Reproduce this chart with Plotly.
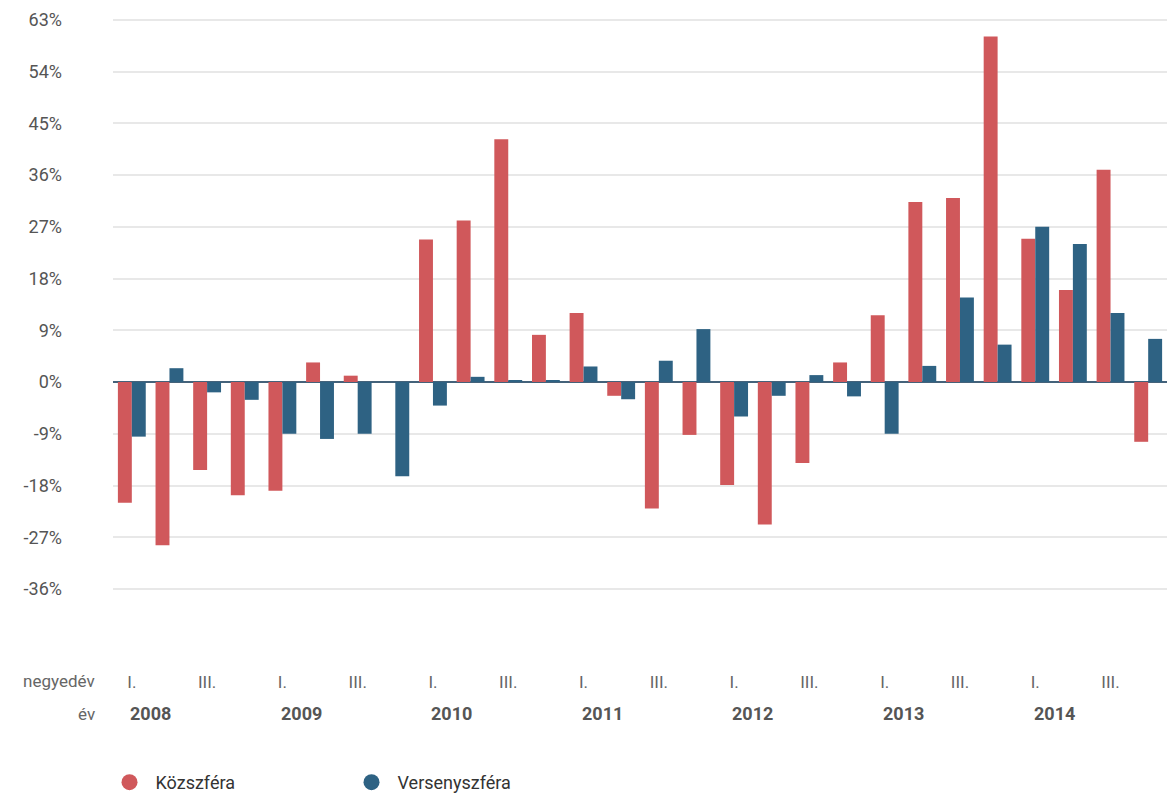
import plotly.graph_objects as go

# Quarterly change, 2008 Q1 - 2014 Q4
years = [2008, 2009, 2010, 2011, 2012, 2013, 2014]
quarter_labels = ["I.", "", "III.", ""]

kozszfera = [
    -21.0, -28.4, -15.3, -19.7,
    -18.9, 3.4, 1.1, 0.0,
    24.8, 28.1, 42.2, 8.2,
    12.0, -2.4, -22.0, -9.2,
    -17.9, -24.8, -14.1, 3.4,
    11.6, 31.3, 32.0, 60.1,
    24.9, 16.0, 36.9, -10.4,
]
versenyszfera = [
    -9.5, 2.4, -1.8, -3.1,
    -9.0, -9.9, -9.0, -16.4,
    -4.1, 0.9, 0.3, 0.2,
    2.7, -3.0, 3.7, 9.2,
    -6.0, -2.4, 1.2, -2.5,
    -9.0, 2.8, 14.7, 6.5,
    27.0, 24.0, 12.0, 7.5,
]
y_ticks = [-36, -27, -18, -9, 0, 9, 18, 27, 36, 45, 54, 63]

RED = "#d0585b"
BLUE = "#2e6283"
FONT = "Roboto"

n = len(kozszfera)
x_idx = list(range(n))

fig = go.Figure()
fig.add_trace(go.Bar(x=x_idx, y=kozszfera, name="Közszféra",
                     marker=dict(color=RED, line_width=0), showlegend=False))
fig.add_trace(go.Bar(x=x_idx, y=versenyszfera, name="Versenyszféra",
                     marker=dict(color=BLUE, line_width=0), showlegend=False))

# round legend markers
for name, col in [("Közszféra", RED), ("Versenyszféra", BLUE)]:
    fig.add_trace(go.Scatter(x=[None], y=[None], mode="markers", name=name,
                             marker=dict(color=col, size=18, symbol="circle")))

tick_text = [quarter_labels[i % 4] for i in x_idx]

fig.update_layout(
    width=1167, height=801,
    margin=dict(l=113, r=0, t=14, b=188),
    paper_bgcolor="white", plot_bgcolor="white",
    barmode="group", bargap=0.26, bargroupgap=0,
    font=dict(family=FONT, color="#555555"),
    showlegend=True,
    legend=dict(orientation="h", x=-0.009, xanchor="left", y=-0.285, yanchor="middle",
                font=dict(size=18, color="#333333", family=FONT),
                itemsizing="trace", itemwidth=42,
                entrywidth=185, entrywidthmode="pixels"),
    xaxis=dict(range=[-0.5, n - 0.5], tickmode="array", tickvals=x_idx,
               ticktext=tick_text, showgrid=False, zeroline=False,
               showline=False, ticks="", ticklabelstandoff=58,
               tickfont=dict(size=17, color="#666666")),
    yaxis=dict(range=[-40, 64], tickmode="array", tickvals=y_ticks,
               ticktext=[f"{v}%" for v in y_ticks], showgrid=True,
               gridcolor="#e8e8e8", gridwidth=2, zeroline=True,
               zerolinecolor="#44627a", zerolinewidth=2, showline=False,
               ticks="", ticklabelstandoff=50,
               tickfont=dict(size=18, color="#555555")),
)

# row titles under the axis
fig.add_annotation(text="negyedév", xref="paper", yref="paper", x=-0.015, y=-0.115,
                   xanchor="right", yanchor="middle", showarrow=False,
                   font=dict(size=17, color="#666666", family=FONT))
fig.add_annotation(text="év", xref="paper", yref="paper", x=-0.015, y=-0.17,
                   xanchor="right", yanchor="middle", showarrow=False,
                   font=dict(size=17, color="#666666", family=FONT))

# year labels, between the first and second quarter of each year
for k, yr in enumerate(years):
    fig.add_annotation(text=f"<b>{yr}</b>", xref="x", yref="paper", x=k * 4 + 0.5,
                       y=-0.17, xanchor="center", yanchor="middle", showarrow=False,
                       font=dict(size=18, color="#555555", family=FONT))

fig.write_html("out.html")
